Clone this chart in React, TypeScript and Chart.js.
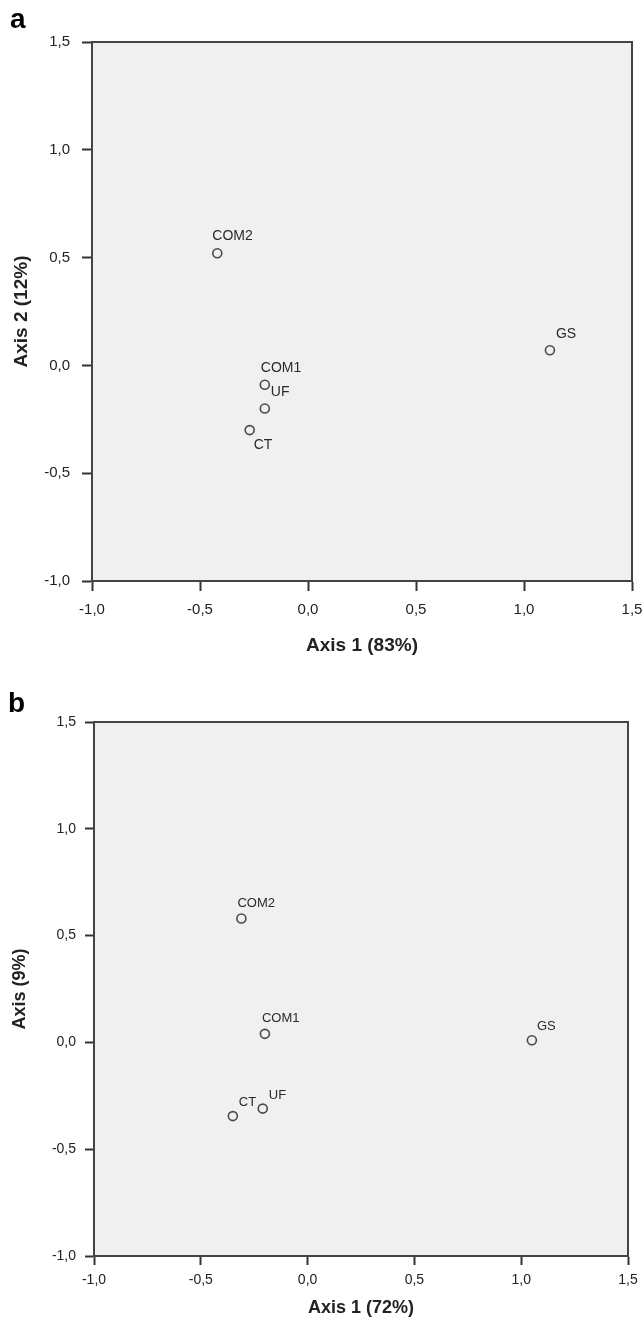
import React, { useEffect, useRef } from 'react';
import { Chart, registerables } from 'chart.js';

Chart.register(...registerables);

// ---- data ----
const tickValues = [-1.0, -0.5, 0.0, 0.5, 1.0, 1.5];

const namesA = ['COM2', 'GS', 'COM1', 'UF', 'CT'];
const axis1A = [-0.42, 1.12, -0.2, -0.2, -0.27];
const axis2A = [0.52, 0.07, -0.09, -0.2, -0.3];

const namesB = ['COM2', 'COM1', 'GS', 'UF', 'CT'];
const axis1B = [-0.31, -0.2, 1.05, -0.21, -0.35];
const axis2B = [0.58, 0.04, 0.01, -0.31, -0.345];

const panelA = 'a';
const panelB = 'b';
const xTitleA = 'Axis 1 (83%)';
const yTitleA = 'Axis 2 (12%)';
const xTitleB = 'Axis 1 (72%)';
const yTitleB = 'Axis (9%)';

// ---- label placement (pixel offsets from point centre: left edge, vertical centre) ----
const labelOffsetsA = [[-5, -17], [6, -16], [-4, -17], [6, -16], [4, 15]];
const labelOffsetsB = [[-4, -15], [-3, -15], [5, -14], [6, -13], [6, -14]];

const FONT = '"Liberation Sans", Arial, sans-serif';
const fmt = (v: number) => v.toFixed(1).replace('.', ',');

type PanelCfg = {
  top: number;
  height: number;
  letter: string;
  letterPos: [number, number];
  letterSize: number;
  names: string[];
  xs: number[];
  ys: number[];
  offsets: number[][];
  xTitle: string;
  yTitle: string;
  padding: { top: number; right: number; left: number; bottom: number };
  yAxisWidth: number;
  xAxisHeight: number;
  tickLen: number;
  yTickPad: number;
  xTickPad: number;
  tickFont: number;
  titleFont: number;
  xTitlePad: number;
  yTitlePad: number;
  labelFont: number;
};

const cfgA: PanelCfg = {
  top: 0,
  height: 665,
  letter: panelA,
  letterPos: [10, 28],
  letterSize: 28,
  names: namesA,
  xs: axis1A,
  ys: axis2A,
  offsets: labelOffsetsA,
  xTitle: xTitleA,
  yTitle: yTitleA,
  padding: { top: 42, right: 12, left: 0, bottom: 0 },
  yAxisWidth: 92,
  xAxisHeight: 84,
  tickLen: 10,
  yTickPad: 12,
  xTickPad: 10,
  tickFont: 15,
  titleFont: 19,
  xTitlePad: 7.6,
  yTitlePad: 10.6,
  labelFont: 14,
};

const cfgB: PanelCfg = {
  top: 680,
  height: 641,
  letter: panelB,
  letterPos: [8, 32],
  letterSize: 28,
  names: namesB,
  xs: axis1B,
  ys: axis2B,
  offsets: labelOffsetsB,
  xTitle: xTitleB,
  yTitle: yTitleB,
  padding: { top: 42, right: 16, left: 0, bottom: 0 },
  yAxisWidth: 94,
  xAxisHeight: 65,
  tickLen: 9,
  yTickPad: 9,
  xTickPad: 7,
  tickFont: 14,
  titleFont: 18,
  xTitlePad: 2.2,
  yTitlePad: 9.2,
  labelFont: 13,
};

function Panel({ cfg }: { cfg: PanelCfg }) {
  const ref = useRef<HTMLCanvasElement | null>(null);

  useEffect(() => {
    const canvas = ref.current;
    if (!canvas) return;

    const decor = {
      id: 'decor',
      beforeDraw(chart: any) {
        const { ctx, chartArea: a } = chart;
        ctx.save();
        ctx.fillStyle = '#ffffff';
        ctx.fillRect(0, 0, chart.width, chart.height);
        ctx.fillStyle = '#f0f0f0';
        ctx.fillRect(a.left, a.top, a.right - a.left, a.bottom - a.top);
        ctx.restore();
      },
      afterDatasetsDraw(chart: any) {
        const { ctx } = chart;
        const meta = chart.getDatasetMeta(0);
        ctx.save();
        ctx.fillStyle = '#2a2a2a';
        ctx.font = `${cfg.labelFont}px ${FONT}`;
        ctx.textAlign = 'left';
        ctx.textBaseline = 'middle';
        meta.data.forEach((el: any, i: number) => {
          const [dx, dy] = cfg.offsets[i];
          ctx.fillText(cfg.names[i], el.x + dx, el.y + dy);
        });
        ctx.restore();
      },
      afterDraw(chart: any) {
        const { ctx, chartArea: a } = chart;
        ctx.save();
        ctx.strokeStyle = '#444444';
        ctx.lineWidth = 2;
        ctx.strokeRect(a.left, a.top, a.right - a.left, a.bottom - a.top);
        ctx.fillStyle = '#000000';
        ctx.font = `bold ${cfg.letterSize}px ${FONT}`;
        ctx.textAlign = 'left';
        ctx.textBaseline = 'alphabetic';
        ctx.fillText(cfg.letter, cfg.letterPos[0], cfg.letterPos[1]);
        ctx.restore();
      },
    };

    const zeroPad = (s: any) => {
      s.paddingLeft = 0;
      s.paddingRight = 0;
      s.paddingTop = 0;
      s.paddingBottom = 0;
    };

    const axisCommon = {
      type: 'linear' as const,
      min: -1.0,
      max: 1.5,
      afterBuildTicks: (s: any) => {
        s.ticks = tickValues.map((v) => ({ value: v }));
      },
      grid: {
        drawOnChartArea: false,
        drawTicks: true,
        tickLength: cfg.tickLen,
        tickColor: '#333333',
        tickWidth: 2,
      },
      border: { display: true, color: '#444444', width: 2 },
    };

    const chart = new Chart(canvas, {
      type: 'scatter',
      data: {
        datasets: [
          {
            label: 'points',
            data: cfg.xs.map((x, i) => ({ x, y: cfg.ys[i] })),
            pointRadius: 4.5,
            pointHoverRadius: 4.5,
            pointBorderWidth: 1.6,
            pointBorderColor: '#4a4a4a',
            pointBackgroundColor: 'rgba(0,0,0,0)',
          },
        ],
      },
      options: {
        responsive: false,
        animation: false,
        devicePixelRatio: 1,
        layout: { padding: cfg.padding },
        plugins: {
          legend: { display: false },
          tooltip: { enabled: false },
          title: { display: false },
        },
        scales: {
          x: {
            ...axisCommon,
            position: 'bottom',
            afterFit: (s: any) => {
              s.height = cfg.xAxisHeight;
              zeroPad(s);
            },
            ticks: {
              autoSkip: false,
              maxRotation: 0,
              minRotation: 0,
              padding: cfg.xTickPad,
              color: '#222222',
              font: { family: FONT, size: cfg.tickFont },
              callback: (v: any) => fmt(Number(v)),
            },
            title: {
              display: true,
              text: cfg.xTitle,
              color: '#222222',
              font: { family: FONT, size: cfg.titleFont, weight: 'bold' },
              padding: { top: 0, bottom: cfg.xTitlePad },
            },
          },
          y: {
            ...axisCommon,
            position: 'left',
            afterFit: (s: any) => {
              s.width = cfg.yAxisWidth;
              zeroPad(s);
            },
            ticks: {
              autoSkip: false,
              padding: cfg.yTickPad,
              color: '#222222',
              font: { family: FONT, size: cfg.tickFont },
              callback: (v: any) => fmt(Number(v)),
            },
            title: {
              display: true,
              text: cfg.yTitle,
              color: '#222222',
              font: { family: FONT, size: cfg.titleFont, weight: 'bold' },
              padding: { top: cfg.yTitlePad, bottom: 0 },
            },
          },
        },
      },
      plugins: [decor],
    } as any);

    return () => chart.destroy();
  }, [cfg]);

  return (
    <canvas
      ref={ref}
      width={644}
      height={cfg.height}
      style={{ position: 'absolute', left: 0, top: cfg.top, width: 644, height: cfg.height, display: 'block' }}
    />
  );
}

export default function App() {
  return (
    <div style={{ position: 'absolute', left: 0, top: 0, width: 644, height: 1321, background: '#ffffff' }}>
      <Panel cfg={cfgA} />
      <Panel cfg={cfgB} />
    </div>
  );
}
